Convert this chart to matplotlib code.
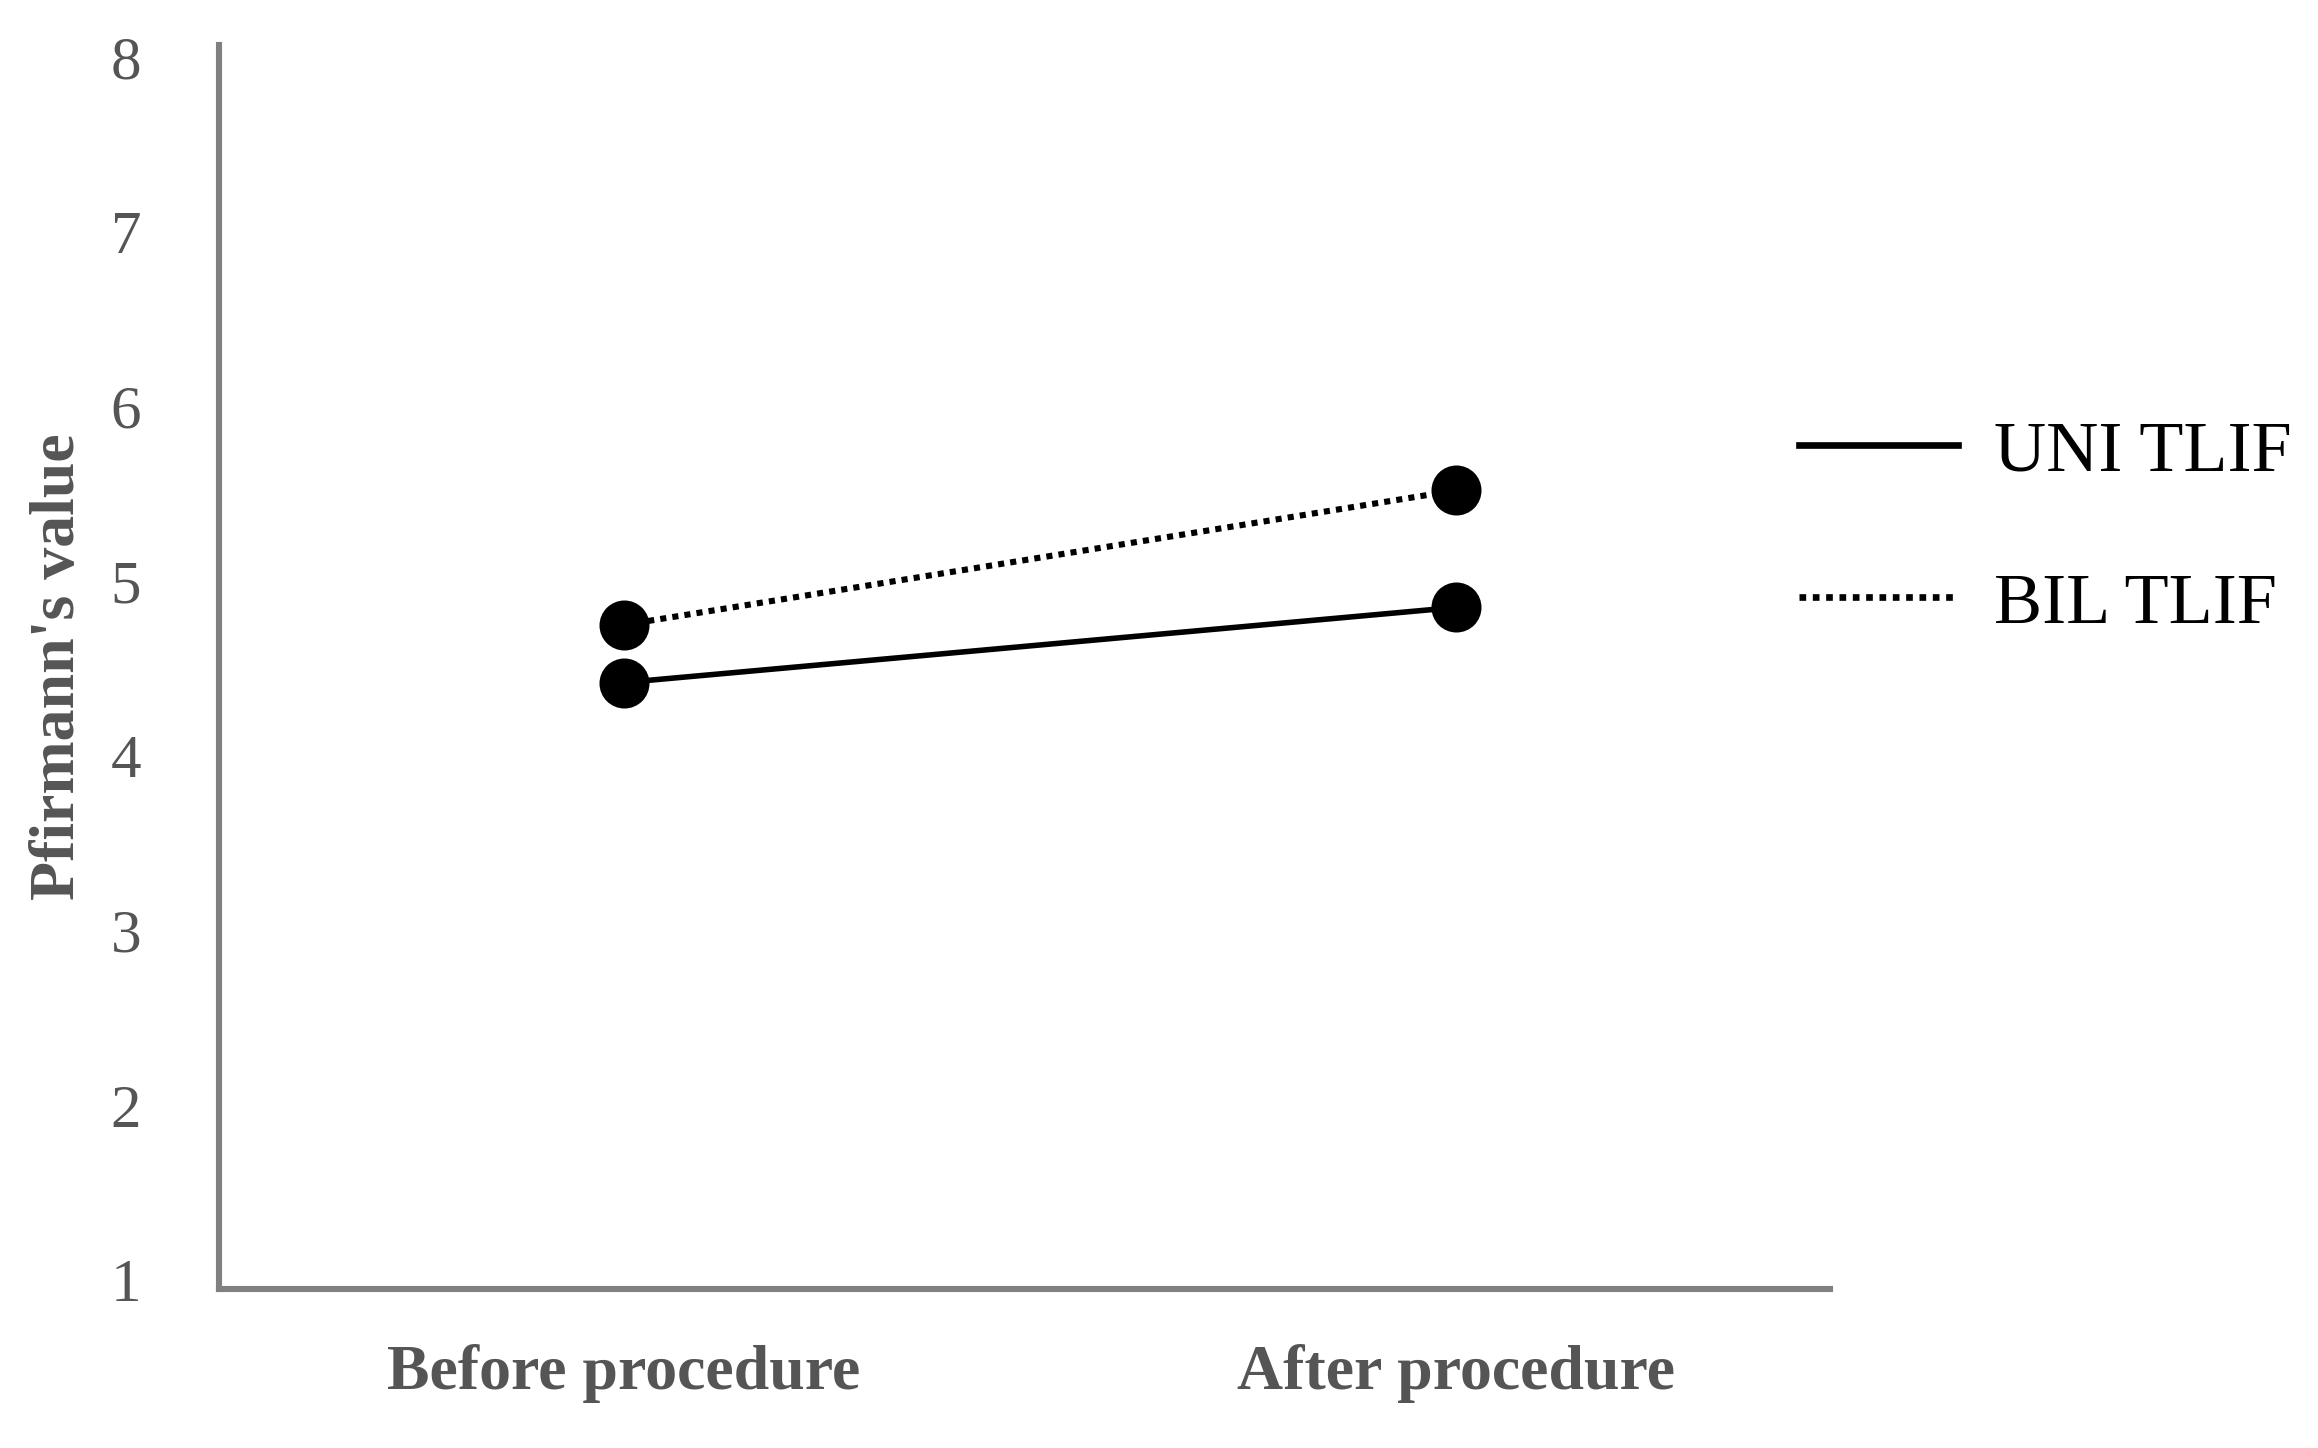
import matplotlib
matplotlib.use("Agg")
import matplotlib.pyplot as plt
from matplotlib.lines import Line2D

categories = ["Before procedure", "After procedure"]
uni_tlif = [4.42, 4.85]
bil_tlif = [4.75, 5.52]
yticks = [1, 2, 3, 4, 5, 6, 7, 8]

plt.rcParams['font.family'] = ['Liberation Serif', 'DejaVu Serif']
fig = plt.figure(figsize=(11.59, 7.24), dpi=200)
ax = fig.add_axes([0.0944, 0.110, 0.695, 0.859])
x = [0, 1]
ax.plot(x, uni_tlif, color='black', lw=2.0, marker='o', ms=17)
ax.plot(x, bil_tlif, color='black', lw=2.2, ls=(0, (1, 1)), marker='o', ms=17)
ax.set_xlim(-0.487, 1.449)
ax.set_ylim(0.95, 8.07)
ax.set_yticks(yticks)
ax.set_yticklabels([str(v) for v in yticks], color='#555555', fontsize=22)
ax.set_xticks(x)
ax.set_xticklabels(categories, color='#555555', fontsize=23, fontweight='bold')
ax.tick_params(axis='x', length=0, pad=20)
ax.tick_params(axis='y', length=0, pad=28)
for s in ['top', 'right']:
    ax.spines[s].set_visible(False)
for s in ['left', 'bottom']:
    ax.spines[s].set_color('#808080')
    ax.spines[s].set_linewidth(2.2)
ax.set_ylabel("Pfirmann's value", color='#555555', fontsize=23, fontweight='bold', labelpad=8)
handles = [Line2D([], [], color='black', lw=2.4),
           Line2D([], [], color='black', lw=2.4, ls=(0, (1, 1)))]
fig.legend(handles, ['UNI TLIF', 'BIL TLIF'], loc='upper left',
           bbox_to_anchor=(0.748, 0.755), frameon=False, fontsize=26,
           handlelength=2.2, labelspacing=1.2, handletextpad=0.5)
fig.savefig("out.png", dpi=200)
